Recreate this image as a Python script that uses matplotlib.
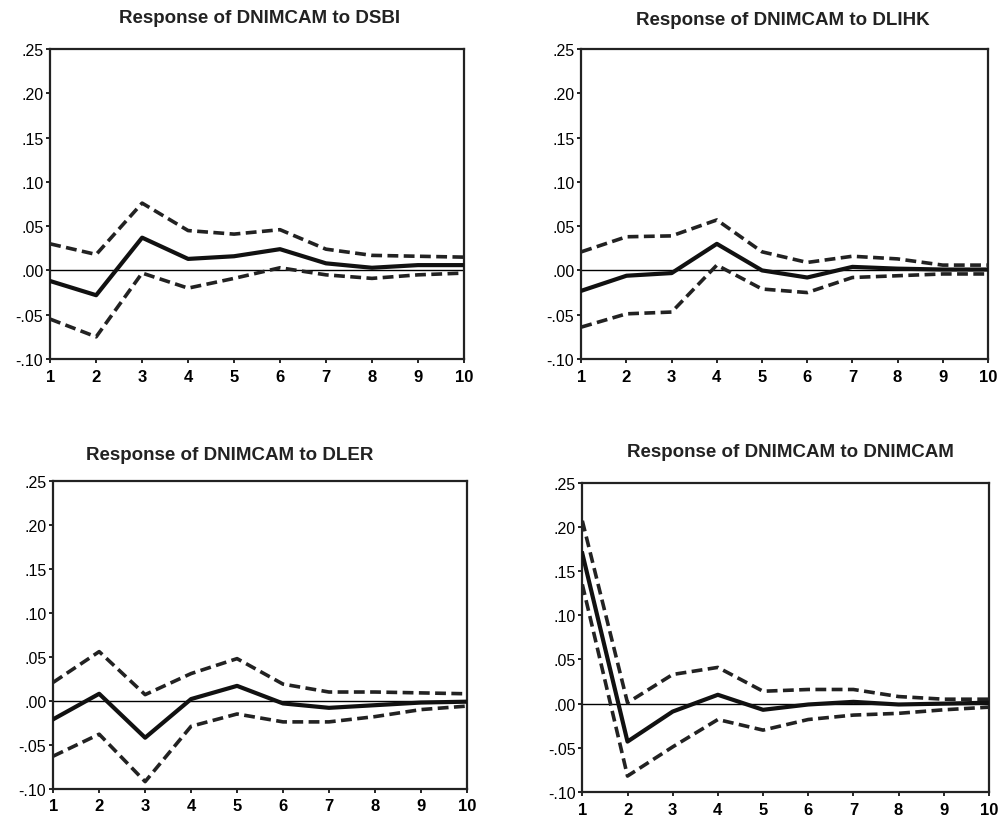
"""Impulse responses of DNIMCAM, four panels in the EViews style."""

import matplotlib

matplotlib.use("Agg")
import matplotlib.pyplot as plt

periods = [1, 2, 3, 4, 5, 6, 7, 8, 9, 10]

titles = [
    "Response of DNIMCAM to DSBI",
    "Response of DNIMCAM to DLIHK",
    "Response of DNIMCAM to DLER",
    "Response of DNIMCAM to DNIMCAM",
]

# response, upper band, lower band for each shock
dsbi_resp = [-0.012, -0.028, 0.037, 0.013, 0.016, 0.024, 0.008, 0.003, 0.006, 0.006]
dsbi_upper = [0.030, 0.018, 0.076, 0.045, 0.041, 0.046, 0.024, 0.017, 0.016, 0.015]
dsbi_lower = [-0.055, -0.075, -0.003, -0.020, -0.009, 0.003, -0.005, -0.009, -0.005, -0.003]

dlihk_resp = [-0.023, -0.006, -0.003, 0.030, 0.000, -0.008, 0.004, 0.002, 0.001, 0.001]
dlihk_upper = [0.021, 0.038, 0.039, 0.057, 0.021, 0.009, 0.016, 0.013, 0.006, 0.006]
dlihk_lower = [-0.064, -0.049, -0.047, 0.006, -0.021, -0.025, -0.008, -0.006, -0.004, -0.004]

dler_resp = [-0.021, 0.008, -0.042, 0.002, 0.017, -0.003, -0.008, -0.005, -0.002, -0.001]
dler_upper = [0.021, 0.056, 0.007, 0.031, 0.048, 0.019, 0.010, 0.010, 0.009, 0.008]
dler_lower = [-0.063, -0.038, -0.092, -0.029, -0.015, -0.024, -0.024, -0.018, -0.010, -0.006]

dnim_resp = [0.170, -0.043, -0.009, 0.010, -0.007, -0.001, 0.002, -0.001, 0.000, 0.001]
dnim_upper = [0.207, 0.001, 0.033, 0.041, 0.014, 0.016, 0.016, 0.008, 0.005, 0.005]
dnim_lower = [0.135, -0.082, -0.049, -0.018, -0.030, -0.018, -0.013, -0.011, -0.007, -0.004]

y_ticks = [-0.10, -0.05, 0.00, 0.05, 0.10, 0.15, 0.20, 0.25]
y_labels = ["-.10", "-.05", ".00", ".05", ".10", ".15", ".20", ".25"]

plt.rcParams["font.family"] = ["Liberation Sans", "DejaVu Sans"]

fig = plt.figure(figsize=(10.04, 8.2), dpi=100)

# axes boxes [left, bottom, width, height] and title positions (fig fraction)
boxes = [
    [0.050, 0.561, 0.412, 0.378],
    [0.579, 0.561, 0.405, 0.378],
    [0.053, 0.037, 0.412, 0.375],
    [0.580, 0.033, 0.405, 0.377],
]
title_pos = [(0.259, 0.978), (0.780, 0.975), (0.229, 0.445), (0.787, 0.448)]

series = [
    (dsbi_resp, dsbi_upper, dsbi_lower),
    (dlihk_resp, dlihk_upper, dlihk_lower),
    (dler_resp, dler_upper, dler_lower),
    (dnim_resp, dnim_upper, dnim_lower),
]

for box, title, tpos, (resp, upper, lower) in zip(boxes, titles, title_pos, series):
    ax = fig.add_axes(box)
    ax.axhline(0, color="black", linewidth=1.0, zorder=1)
    ax.plot(periods, upper, color="#222222", linewidth=2.6, linestyle=(0, (3, 1.5)), zorder=2)
    ax.plot(periods, lower, color="#222222", linewidth=2.6, linestyle=(0, (3, 1.5)), zorder=2)
    ax.plot(periods, resp, color="#111111", linewidth=3.0, zorder=3)

    ax.set_xlim(1, 10)
    ax.set_ylim(-0.10, 0.25)
    ax.set_xticks(periods)
    ax.set_xticklabels([str(p) for p in periods], fontsize=12, fontweight="bold")
    ax.set_yticks(y_ticks)
    ax.set_yticklabels(y_labels, fontsize=11.5)
    ax.tick_params(axis="x", direction="out", length=3, width=1.2, pad=4, colors="black")
    ax.tick_params(axis="y", direction="out", length=3, width=1.2, pad=2, colors="black")
    for spine in ax.spines.values():
        spine.set_linewidth(1.6)
        spine.set_color("#222222")

    fig.text(tpos[0], tpos[1], title, ha="center", va="center",
             fontsize=13.5, fontweight="bold", color="#222222")

fig.savefig("out.png", dpi=100)
